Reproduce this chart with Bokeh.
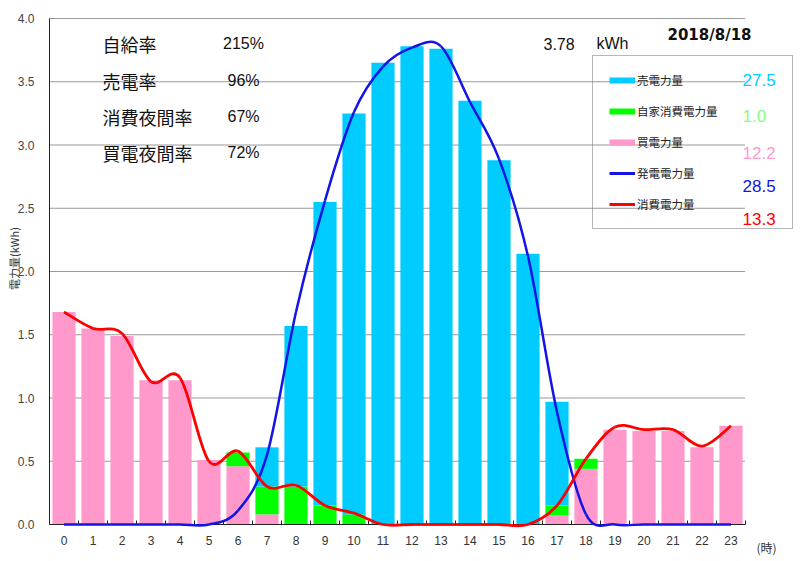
import math

from bokeh.plotting import figure
from bokeh.models import ColumnDataSource, Range1d, Label, Legend, LegendItem
from bokeh.core.properties import value
from bokeh.embed import file_html
from bokeh.resources import INLINE

# hourly values (kWh)
hours = list(range(24))
buy = [1.68, 1.55, 1.49, 1.14, 1.14, 0.51, 0.46, 0.08, 0, 0, 0, 0,
       0, 0, 0, 0, 0, 0.07, 0.44, 0.75, 0.74, 0.74, 0.61, 0.78]
self_use = [0, 0, 0, 0, 0, 0, 0.11, 0.22, 0.30, 0.15, 0.08, 0,
            0, 0, 0, 0, 0, 0.08, 0.08, 0, 0, 0, 0, 0]
sell = [0, 0, 0, 0, 0, 0, 0, 0.31, 1.27, 2.40, 3.17, 3.65,
        3.78, 3.76, 3.35, 2.88, 2.14, 0.82, 0, 0, 0, 0, 0, 0]
generation = [0, 0, 0, 0, 0, 0, 0.11, 0.55, 1.68, 2.56, 3.26, 3.62,
              3.77, 3.78, 3.34, 2.89, 2.12, 0.89, 0.08, 0, 0, 0, 0, 0]
consumption = [1.68, 1.55, 1.51, 1.13, 1.16, 0.50, 0.58, 0.30, 0.31, 0.15, 0.09, 0,
               0, 0, 0, 0, 0, 0.15, 0.52, 0.77, 0.75, 0.75, 0.62, 0.78]

y_ticks = [0.0, 0.5, 1.0, 1.5, 2.0, 2.5, 3.0, 3.5, 4.0]

rate_names = ["自給率", "売電率", "消費夜間率", "買電夜間率"]
rate_values = ["215%", "96%", "67%", "72%"]
series_names = ["売電力量", "自家消費電力量", "買電力量", "発電電力量", "消費電力量"]
series_totals = ["27.5", "1.0", "12.2", "28.5", "13.3"]
peak_text = "3.78"
date_text = "2018/8/18"

CYAN = "#00ccff"
GREEN = "#00ff00"
PINK = "#ff99cc"
BLUE = "#1414e6"
RED = "#ff0000"
total_colors = [CYAN, "#80ff80", PINK, BLUE, RED]

JP = "Noto Sans CJK JP"
SANS = "Liberation Sans"

# pixel layout of the canvas (whole canvas is the frame, axes drawn by hand)
W, H = 800, 561
AXIS_LEFT, AXIS_BOTTOM = 49, 524
PX_PER_HOUR, PX_PER_KWH = 29, 126.5


def dx(px):
    return (px - AXIS_LEFT) / PX_PER_HOUR - 0.5


def dy(py):
    return (AXIS_BOTTOM - py) / PX_PER_KWH


def smooth(xs, ys):
    # catmull-rom style bezier segments through the hourly points
    n = len(xs)
    seg = {k: [] for k in ("x0", "y0", "x1", "y1", "cx0", "cy0", "cx1", "cy1")}
    for i in range(n - 1):
        a = max(i - 1, 0)
        d = min(i + 2, n - 1)
        seg["x0"].append(xs[i])
        seg["y0"].append(ys[i])
        seg["x1"].append(xs[i + 1])
        seg["y1"].append(ys[i + 1])
        seg["cx0"].append(xs[i] + (xs[i + 1] - xs[a]) / 6)
        seg["cy0"].append(ys[i] + (ys[i + 1] - ys[a]) / 6)
        seg["cx1"].append(xs[i + 1] - (xs[d] - xs[i]) / 6)
        seg["cy1"].append(ys[i + 1] - (ys[d] - ys[i]) / 6)
    return ColumnDataSource(seg)


source = ColumnDataSource(dict(hour=hours, buy=buy, self_use=self_use, sell=sell))

p = figure(width=W, height=H, output_backend="svg", toolbar_location=None,
           x_range=Range1d(dx(0), dx(W)), y_range=Range1d(dy(H), dy(0)),
           x_axis_location=None, y_axis_location=None, min_border=0)
p.outline_line_color = None
p.grid.visible = False
p.background_fill_color = "white"
p.border_fill_color = "white"

x_lo, x_hi = hours[0] - 0.5, hours[-1] + 0.5

# dotted horizontal grid
grid_y = y_ticks[1:]
p.segment(x0=[x_lo] * len(grid_y), y0=grid_y, x1=[x_hi] * len(grid_y), y1=grid_y,
          line_color="#333333", line_width=1, line_dash="1 1")

p.vbar_stack(["buy", "self_use", "sell"], x="hour", width=0.8,
             fill_color=[PINK, GREEN, CYAN], line_color=None, source=source)

# axes lines and ticks
p.segment(x0=[x_lo, x_lo], y0=[y_ticks[0], y_ticks[0]], x1=[x_lo, x_hi],
          y1=[y_ticks[-1], y_ticks[0]], line_color="#222222", line_width=1)
bounds = [h - 0.5 for h in hours] + [x_hi]
p.segment(x0=bounds, y0=[0] * len(bounds), x1=bounds, y1=[dy(AXIS_BOTTOM - 4)] * len(bounds),
          line_color="#222222", line_width=1)

p.text(x=hours, y=[dy(540)] * len(hours), text=[str(h) for h in hours],
       text_font=value(SANS), text_font_size="12px", text_color="#333333",
       text_align="center", text_baseline="middle")
p.text(x=[dx(34)] * len(y_ticks), y=y_ticks, text=[f"{t:.1f}" for t in y_ticks],
       text_font=value(SANS), text_font_size="12px", text_color="#444444",
       text_align="right", text_baseline="middle")
p.text(x=[dx(13)], y=[dy(258)], text=["電力量(kWh)"], angle=math.pi / 2,
       text_font=value(JP), text_font_size="11px", text_color="#333333",
       text_align="center", text_baseline="middle")
p.text(x=[dx(766)], y=[dy(547)], text=["(時)"],
       text_font=value(JP), text_font_size="12px", text_color="#333333",
       text_align="center", text_baseline="middle")

p.bezier(x0="x0", y0="y0", x1="x1", y1="y1", cx0="cx0", cy0="cy0",
         cx1="cx1", cy1="cy1", source=smooth(hours, generation),
         line_color=BLUE, line_width=2.5)
p.bezier(x0="x0", y0="y0", x1="x1", y1="y1", cx0="cx0", cy0="cy0",
         cx1="cx1", cy1="cy1", source=smooth(hours, consumption),
         line_color=RED, line_width=2.8)

# legend with proxy lines (no visible data)
proxies = []
for color, lw in [(CYAN, 6), (GREEN, 6), (PINK, 6), (BLUE, 3), (RED, 3)]:
    proxies.append(p.line(x=[float("nan")], y=[float("nan")], line_color=color, line_width=lw))
legend = Legend(items=[LegendItem(label=n, renderers=[r]) for n, r in zip(series_names, proxies)],
                location=(592, H - 229), margin=0, padding=16, spacing=15,
                glyph_width=26, glyph_height=16, label_height=16, label_width=139,
                label_standoff=2, label_text_font=JP, label_text_font_size="11.5px",
                label_text_color="#222222", label_text_baseline="middle",
                border_line_color="#707070", border_line_width=1,
                background_fill_alpha=0)
p.add_layout(legend, "center")

for k, (txt, py) in enumerate(zip(series_totals, [79, 115, 152, 185, 218])):
    p.add_layout(Label(x=dx(742), y=dy(py), text=txt, text_font=SANS,
                       text_font_size="17px", text_color=total_colors[k],
                       text_baseline="middle", text_align="left"))

# summary rates
for name, val, py in zip(rate_names, rate_values, [43, 80, 116, 152]):
    p.add_layout(Label(x=dx(102), y=dy(py), text=name, text_font=JP, text_font_size="18px",
                       text_color="#111111", text_baseline="middle", text_align="left"))
    p.add_layout(Label(x=dx(243), y=dy(py), text=val, text_font=SANS, text_font_size="16px",
                       text_color="#111111", text_baseline="middle", text_align="center"))

p.add_layout(Label(x=dx(543), y=dy(43), text=peak_text, text_font=SANS, text_font_size="16px",
                   text_color="#111111", text_baseline="middle", text_align="left"))
p.add_layout(Label(x=dx(596), y=dy(43), text="kWh", text_font=SANS, text_font_size="16px",
                   text_color="#111111", text_baseline="middle", text_align="left"))
p.add_layout(Label(x=dx(709), y=dy(34), text=date_text, text_font="DejaVu Sans",
                   text_font_size="15px", text_font_style="bold", text_color="#111111",
                   text_baseline="middle", text_align="center"))

open("out.html", "w").write(file_html(p, INLINE))
